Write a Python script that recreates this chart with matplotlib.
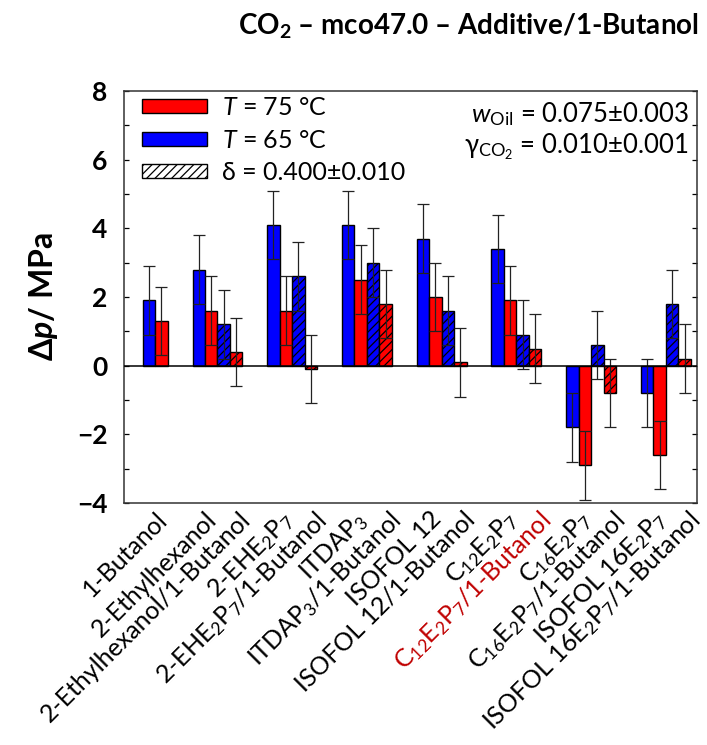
import numpy as np
import matplotlib
matplotlib.use("Agg")
import matplotlib.pyplot as plt
from matplotlib.patches import Patch
from matplotlib.transforms import ScaledTranslation

plt.rcParams['font.family'] = ['Lato', 'DejaVu Sans']
plt.rcParams['mathtext.fontset'] = 'custom'
plt.rcParams['mathtext.rm'] = 'Lato'
plt.rcParams['mathtext.it'] = 'Lato:italic'
plt.rcParams['mathtext.bf'] = 'Lato:bold'
plt.rcParams['mathtext.bfit'] = 'Lato:bold:italic'
plt.rcParams['hatch.linewidth'] = 0.9

# Additives (single and in mixture with 1-butanol)
labels = [
    "1-Butanol",
    "2-Ethylhexanol",
    "2-Ethylhexanol/1-Butanol",
    r"2-EHE$_2$P$_7$",
    r"2-EHE$_2$P$_7$/1-Butanol",
    r"ITDAP$_3$",
    r"ITDAP$_3$/1-Butanol",
    "ISOFOL 12",
    "ISOFOL 12/1-Butanol",
    r"C$_{12}$E$_2$P$_7$",
    r"C$_{12}$E$_2$P$_7$/1-Butanol",
    r"C$_{16}$E$_2$P$_7$",
    r"C$_{16}$E$_2$P$_7$/1-Butanol",
    r"ISOFOL 16E$_2$P$_7$",
    r"ISOFOL 16E$_2$P$_7$/1-Butanol",
]
highlight = [False] * 10 + [True] + [False] * 4

# Pressure shift in MPa
dp_65 = [1.9, 2.8, 1.2, 4.1, 2.6, 4.1, 3.0, 3.7, 1.6, 3.4, 0.9, -1.8, 0.6, -0.8, 1.8]
dp_75 = [1.3, 1.6, 0.4, 1.6, -0.1, 2.5, 1.8, 2.0, 0.1, 1.9, 0.5, -2.9, -0.8, -2.6, 0.2]
err_65 = [1.0] * 15
err_75 = [1.0] * 15
# mixtures with 1-butanol (delta = 0.400) are hatched
mixture = [False, False, True, False, True, False, True, False, True,
           False, True, False, True, False, True]

# bar positions: first pair alone, then groups of two pairs
x_left = []
for i in range(len(labels)):
    if i == 0:
        x_left.append(1.5)
    else:
        g = (i + 1) // 2
        x_left.append(5.5 + 6 * (g - 1) + ((i - 1) % 2) * 2)
x_left = np.array(x_left)
x65 = x_left + 0.5
x75 = x_left + 1.5
centers = x_left + 1.0

fig = plt.figure(figsize=(7.07, 7.45), dpi=100)
ax = fig.add_axes([0.1754, 0.3248, 0.8105, 0.5531])

BLUE = "#0000ff"
RED = "#ff0000"
hatch = ["////" if m else None for m in mixture]

for xb, xr, yb, yr, h in zip(x65, x75, dp_65, dp_75, hatch):
    ax.bar(xb, yb, width=1.0, color=BLUE, edgecolor="black", linewidth=1.0,
           hatch=h, zorder=2)
    ax.bar(xr, yr, width=1.0, color=RED, edgecolor="black", linewidth=1.0,
           hatch=h, zorder=2)

ax.errorbar(x65, dp_65, yerr=err_65, fmt="none", ecolor="#222222",
            elinewidth=0.9, capsize=4.2, capthick=0.9, zorder=3)
ax.errorbar(x75, dp_75, yerr=err_75, fmt="none", ecolor="#222222",
            elinewidth=0.9, capsize=4.2, capthick=0.9, zorder=3)

ax.axhline(0, color="black", linewidth=1.1, zorder=4)

ax.set_xlim(0, 46)
ax.set_ylim(-4, 8)
ax.set_yticks(np.arange(-4, 9, 2))
ax.set_yticks(np.arange(-4, 9, 1), minor=True)
ax.tick_params(axis="y", which="both", direction="in", length=3.5,
               width=0.9, right=True, left=True, pad=12,
               labelsize=19)
for t in ax.get_yticklabels():
    t.set_fontweight("bold")

ax.set_xticks(centers)
ax.set_xticklabels(labels, rotation=45, ha="right", rotation_mode="anchor",
                   fontsize=18)
ax.tick_params(axis="x", length=0, pad=3)
for t, lab, hl in zip(ax.get_xticklabels(), labels, highlight):
    dx = 6 / 72 if "/1-Butanol" in lab else 0
    t.set_transform(t.get_transform() + ScaledTranslation(dx, 0, fig.dpi_scale_trans))
    if hl:
        t.set_color("#c00000")

for s in ax.spines.values():
    s.set_linewidth(1.1)
    s.set_color("#333333")

ax.set_ylabel(r"Δ$\mathbfit{p}$/ MPa", fontsize=23, fontweight="bold",
              labelpad=12)

fig.suptitle(r"CO$_\mathbf{2}$ – mco47.0 – Additive/1-Butanol",
             fontsize=20, fontweight="bold", x=0.662, y=0.985)

handles = [
    Patch(facecolor=RED, edgecolor="black", linewidth=1.0),
    Patch(facecolor=BLUE, edgecolor="black", linewidth=1.0),
    Patch(facecolor="white", edgecolor="black", linewidth=1.0, hatch="////"),
]
leg_labels = [r"$T$ = 75 °C", r"$T$ = 65 °C", "δ = 0.400±0.010"]
ax.legend(handles, leg_labels, loc="upper left", bbox_to_anchor=(0.0, 1.03),
          frameon=False, fontsize=18, handlelength=2.6, handleheight=0.47,
          handletextpad=0.6, labelspacing=0.38, borderaxespad=0.3)

ax.text(0.985, 0.945, r"$w$$_\mathrm{Oil}$ = 0.075±0.003",
        transform=ax.transAxes, ha="right", va="center", fontsize=18.5)
ax.text(0.985, 0.865, r"γ$_{\mathrm{CO}_2}$ = 0.010±0.001",
        transform=ax.transAxes, ha="right", va="center", fontsize=18.5)

fig.savefig("out.png", dpi=100)
